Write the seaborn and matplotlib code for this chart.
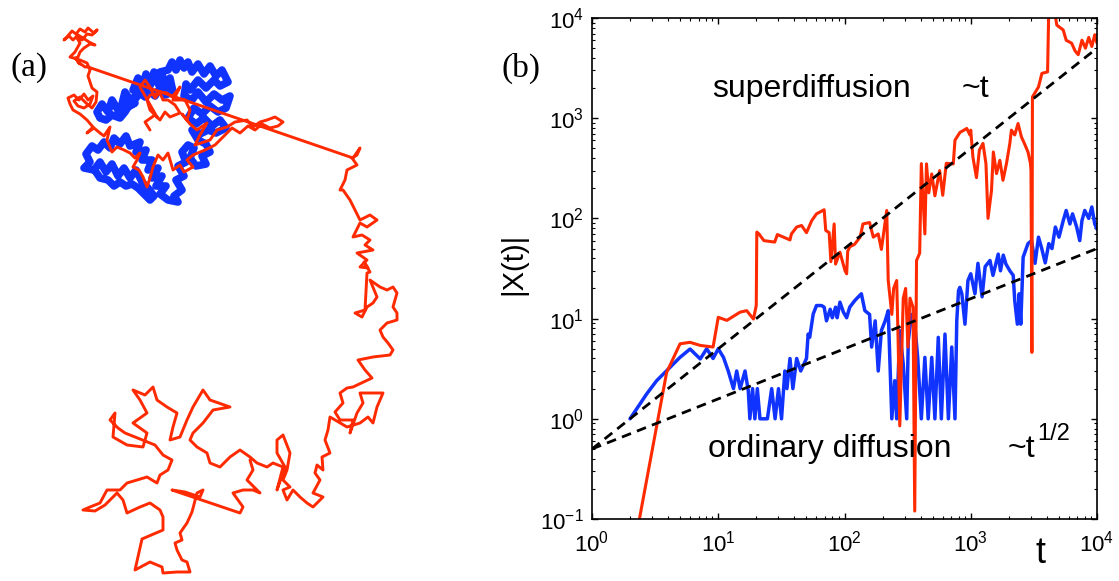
import numpy as np
import pandas as pd
import matplotlib
matplotlib.use("Agg")
import matplotlib.pyplot as plt
import seaborn as sns

# ---------------- data: panel (a) trajectories (picture coordinates) ----------------
red_path = [
    (150,130),(145,122),(155,115),(160,120),(165,112),(170,117),(180,113),(175,105),(168,100),(163,100),(160,93),(150,95),(147,100),(150,110),(157,117),(140,87),(145,80),(150,87),(155,98),(160,92),(167,93),(172,97),(180,87),(176,95),(173,100),(185,100),(190,110),(187,120),(182,114),(190,124),(197,130),(207,123),(200,135),(195,145),(210,140),(217,130),(227,127),(235,122),(247,120),(253,127),(260,122),(267,120),(275,117),(283,122),(278,126),(270,128),(262,124),(255,130),(248,126),(240,133),(232,128),(225,135),(215,145),(205,150),(193,155),(187,160),(193,167),(184,172),(180,165),(173,170),(168,153),(163,160),(158,155),(153,167),(150,178),(147,187),(143,177),(139,170),(133,167),(137,160),(140,153),(135,158),(130,153),(124,150),(117,147),(112,152),(107,140),(110,127),(104,136),(100,133),(94,128),(87,133),(93,127),
    (87,120),(80,114),(73,110),(70,104),(68,98),(74,95),(79,100),(84,94),(88,100),(93,96),(90,104),(84,108),(78,106),(74,101),(80,97),(86,103),(92,108),(96,102),(97,92),(92,88),(90,82),(88,76),(90,70),(87,63),(80,60),(70,57),(75,52),(80,43),
    (77,38),(82,40),(87,34),(92,35),(97,30),(94,33),(88,28),(85,32),(80,29),(76,34),(72,31),(66,38),(64,40),(69,36),(73,40),(78,35),(83,38),(89,42),(95,45),(90,44),(84,48),(80,52),(78,57),(75,58),(80,64),(78,62),(85,67),(88,67),
    (353,158),(360,148),(357,155),(352,158),(357,165),(347,170),(345,180),(340,190),(343,190),(350,200),(360,220),(370,215),(377,220),(367,227),(360,223),(353,237),(362,235),(370,240),(365,245),(373,250),(357,253),(367,260),(360,267),(368,268),(364,262),(370,272),(367,273),(365,310),(355,313),(362,317),(367,307),(373,303),(377,297),(370,280),(380,287),(387,290),(393,287),(397,293),(393,307),(397,313),(397,320),(387,323),(380,330),(383,337),(388,343),(393,350),(390,355),(373,357),(358,360),(365,370),(372,378),(353,387),(347,388),(340,393),(343,403),(335,412),(340,420),(353,420),(350,433),(357,413),(363,403),(360,393),(373,393),(383,393),(377,407),(373,423),(368,417),(360,423),(347,427),(330,417),(328,430),(325,440),(330,453),(322,457),(323,470),(317,465),(315,473),
    (320,480),(313,493),(323,497),(313,507),(307,503),(300,497),(293,490),(287,500),(283,490),(290,487),(283,480),(287,470),(290,453),(283,435),(277,440),(277,453),(285,467),(277,490),(283,467),(273,463),(267,467),(257,463),(250,457),(240,450),(230,457),(220,467),(210,463),(207,453),(197,447),(190,440),(193,433),(203,423),(213,410),(230,407),(210,400),(203,390),(193,407),(187,420),(180,437),(170,440),(173,427),(177,413),(167,407),(157,400),(153,387),(145,395),(133,390),(140,400),(147,413),(133,423),(147,433),(143,447),(127,445),(113,437),(115,413),(110,420),(118,428),(125,433),(135,437),(155,445),(163,455),(172,460),(168,470),(160,475),(157,483),(147,477),(137,480),(127,483),(120,490),(107,490),(100,503),(90,507),(83,510),(95,511),(105,505),(117,493),(123,500),(127,513),(140,507),(150,503),(160,510),(163,517),(163,530),(142,539),(135,570),(150,562),(162,567),(163,573),(177,572),(190,572),(187,562),(182,560),(177,550),(175,543),(182,540),(180,533),(187,523),(192,512),(197,493),(203,490),(200,497),(185,492),(172,490),(240,513),(243,507),(233,493),(243,490),(253,490),(260,493),(247,480),(253,470),(250,460),
]
blue_path = [
    (133,90),(138,78),(142,88),(146,74),(150,86),(154,72),(158,84),(162,74),(166,88),(170,78),(173,92),(165,95),(160,88),(155,96),(150,92),(145,97),(140,93),(136,98),(130,100),(125,92),(122,104),(128,107),(135,103),(118,110),(112,100),(108,112),(102,104),(97,112),(100,118),(106,120),(112,115),(120,118),(125,112),(135,96),(150,82),(160,72),(168,70),(172,62),(176,70),(180,60),(184,68),(188,62),(192,72),(198,64),(204,74),(210,66),(216,76),(222,70),(228,82),(220,86),(214,80),(206,88),(198,80),(190,90),(186,84),(184,96),(192,100),(198,92),(206,102),(214,94),(222,100),(230,96),(226,108),(218,112),(210,106),(202,114),(194,108),(188,118),(196,124),(204,118),(212,126),(220,120),(226,128),(216,133),(208,130),(200,134),(192,130),(198,140),(206,144),(210,152),(202,156),(206,164),(196,166),(190,158),(194,148),(188,145),
    (182,152),(186,162),(178,166),(184,176),(176,180),(182,190),(174,196),(178,202),(168,200),(160,194),(166,186),(156,186),(162,176),(152,178),(158,168),(148,170),(152,160),(142,160),(146,150),(136,152),(140,142),(130,146),(126,136),(120,144),(114,138),(110,148),(104,142),(98,150),(92,146),(86,154),(90,162),(84,168),(94,170),(100,162),(106,172),(112,164),(118,176),(124,168),(130,178),(136,170),(142,182),(148,188),(154,196),(150,200),(144,194),(138,188),(132,184),(126,186),(120,182),(114,186),(108,180),(100,178),(96,172),
]

# ---------------- data: panel (b) |X(t)| ----------------
red_t = [2, 2.33, 3.9, 4.98, 5.97, 7.2, 9.1, 10, 11.7, 14.9, 16.8, 19, 20, 20.2, 21, 23, 28, 29.4, 37, 38, 41.8, 45.7, 50, 55, 60, 69, 71, 75.6, 78, 82.8, 85, 92, 101, 104, 106, 110, 120, 133, 140, 158, 169, 185, 196, 216, 222, 237, 245, 259, 266, 274, 292, 305, 318, 330, 349, 360, 372, 394, 406, 433, 446, 465, 491, 520, 567, 600, 640, 727, 750, 820, 930, 985, 1000, 1040, 1110, 1170, 1250, 1320, 1370, 1460, 1510, 1600, 1700, 1800, 1920, 2040, 2100, 2230, 2370, 2520, 2660, 2840, 2970, 3000, 3050, 3080, 3440, 3660, 4060, 4140, 4680, 4800, 5400, 5700, 6300, 6700, 7100, 7600, 8100, 8600, 9100, 9600, 10000]
red_x = [0.03, 0.088, 2.9, 5.6, 5.8, 5.4, 5.2, 10.3, 9.6, 11.6, 12.0, 9.9, 13.5, 73, 70, 60, 58, 69, 61, 70, 82, 85, 72, 95, 111, 122, 76, 72, 37, 88, 35, 46, 30, 28, 47, 52, 55, 65, 88, 91, 65, 70, 49, 120, 24, 11, 20, 24, 6, 0.85, 16, 20, 5.2, 16, 13, 0.12, 38, 45, 352, 70, 350, 180, 278, 168, 300, 170, 355, 350, 603, 720, 790, 680, 760, 410, 255, 480, 560, 350, 100, 190, 460, 280, 380, 240, 355, 560, 760, 680, 885, 650, 560, 460, 355, 300, 4.6, 1630, 2050, 2800, 2900, 10500, 10500, 8500, 7600, 6000, 5600, 4700, 4300, 6000, 5000, 6400, 5200, 6800, 5600]

blue_t = [2, 2.71, 3.25, 4.15, 4.97, 5.98, 7.2, 8.1, 9.1, 10, 11, 12, 13.2, 14, 14.9, 16.3, 17.3, 17.8, 18.7, 19.5, 20.4, 21.4, 24.5, 26.5, 28.2, 30, 31.7, 33.7, 35, 37, 39, 41.8, 45, 50, 51.5, 53, 56.5, 60, 65.7, 69, 72, 77, 80, 85, 87.5, 92, 98, 104, 110, 121, 136, 145, 158, 164, 175, 185, 196, 210, 222, 237, 250, 259, 274, 292, 311, 320, 340, 360, 380, 406, 433, 460, 491, 520, 553, 585, 625, 665, 707, 750, 775, 800, 820, 850, 900, 950, 1000, 1080, 1140, 1230, 1300, 1420, 1500, 1650, 1720, 1810, 1900, 2040, 2170, 2230, 2340, 2420, 2490, 2600, 2840, 3030, 3230, 3440, 3650, 3890, 4150, 4400, 4680, 5000, 5400, 5700, 6100, 6400, 6900, 7300, 7600, 8000, 8600, 9100, 9600, 10000]
blue_x = [1.0, 1.77, 2.4, 3.26, 4.1, 4.97, 3.96, 5, 4, 5, 4.1, 3.0, 2.0, 3, 2, 3, 1.9, 1, 2, 1, 2, 1, 1, 2, 1, 2, 1, 3, 2, 4, 2, 4, 3, 4, 7, 6.5, 11.1, 13.5, 13.5, 13, 9.5, 12.4, 10.2, 13, 10.2, 14.6, 11.6, 10.2, 13, 15.2, 17.7, 12, 11, 5.2, 9.5, 3, 7.6, 9.5, 12, 1, 2.4, 1, 7.6, 3.5, 1, 6, 11, 8.8, 4.1, 1, 4.1, 1, 4.1, 1, 6.5, 1, 7, 1, 5.2, 1, 9.5, 19, 20.5, 17.7, 8.8, 24, 28, 17.7, 35.6, 16.5, 33, 38, 27, 44, 30, 43, 35, 30, 27, 15.2, 8.8, 17.7, 8.8, 41, 56, 60, 35.6, 65, 50, 36, 56, 50, 82, 65, 95, 120, 88, 111, 82, 60, 95, 120, 100, 130, 88, 78]

# guide lines (end points of the power laws ~t and ~t^(1/2))
guide_t = [1, 10000]
guide_super = [0.5, 5000]
guide_ordinary = [0.5, 50]

yticks = [0.1, 1, 10, 100, 1000, 10000]
xticks = [1, 10, 100, 1000, 10000]

RED = "#ff2a00"
BLUE = "#1133ff"

# ---------------- style ----------------
sns.set_theme(style="white")
plt.rcParams["font.family"] = ["Liberation Sans", "DejaVu Sans"]
plt.rcParams["mathtext.fontset"] = "custom"
plt.rcParams["mathtext.rm"] = "Liberation Sans"
plt.rcParams["mathtext.it"] = "Liberation Sans:italic"
plt.rcParams["mathtext.bf"] = "Liberation Sans:bold"
for k in ["text.color", "axes.labelcolor", "xtick.color", "ytick.color", "axes.edgecolor"]:
    plt.rcParams[k] = "black"

W, H = 1119, 581
fig = plt.figure(figsize=(W / 100, H / 100), dpi=100)
fig.patch.set_facecolor("white")

def fx(px):
    return px / W

def fy(py):
    return 1 - py / H

# ---------------- panel (a) ----------------
ax_a = fig.add_axes([0, 0, 400 / W, 1])
dfa_b = pd.DataFrame(blue_path, columns=["x", "y"])
dfa_r = pd.DataFrame(red_path, columns=["x", "y"])
sns.lineplot(data=dfa_b, x="x", y="y", sort=False, estimator=None, color=BLUE,
             lw=5.5, ax=ax_a, solid_joinstyle="round", solid_capstyle="round")
sns.lineplot(data=dfa_r, x="x", y="y", sort=False, estimator=None, color=RED,
             lw=2.1, ax=ax_a, solid_joinstyle="round", solid_capstyle="round")
ax_a.set_xlim(0, 400)
ax_a.set_ylim(H, 0)
ax_a.axis("off")

# ---------------- panel (b) ----------------
ax = fig.add_axes([fx(592), fy(519), (1097 - 592) / W, (519 - 18) / H])
ax.set_xscale("log")
ax.set_yscale("log")

dfr = pd.DataFrame({"t": red_t, "x": red_x})
dfb = pd.DataFrame({"t": blue_t, "x": blue_x})
sns.lineplot(data=dfb, x="t", y="x", sort=False, estimator=None, color=BLUE, lw=2.5, ax=ax)
sns.lineplot(data=dfr, x="t", y="x", sort=False, estimator=None, color=RED, lw=2.2, ax=ax)
sns.lineplot(x=guide_t, y=guide_super, color="black", lw=2.0, ax=ax,
             linestyle=(0, (3.5, 2.3)))
sns.lineplot(x=guide_t, y=guide_ordinary, color="black", lw=2.0, ax=ax,
             linestyle=(0, (3.5, 2.3)))

ax.set_xlim(1, 10000)
ax.set_ylim(0.1, 10000)
ax.set_xticks(xticks)
ax.set_yticks(yticks)
ax.set_xlabel("")
ax.set_ylabel("")
for s in ax.spines.values():
    s.set_color("black")
    s.set_linewidth(1.2)
    s.set_visible(True)
ax.tick_params(which="both", direction="in", top=True, right=True, bottom=True, left=True,
               colors="black", labelcolor="black")
ax.tick_params(which="major", length=4, width=1.0, labelsize=16)
ax.tick_params(which="minor", length=2.2, width=0.8)
ax.tick_params(axis="y", pad=6)
ax.tick_params(axis="x", pad=8)
ax.grid(False)

# ---------------- texts ----------------
fig.text(fx(712), fy(97), "superdiffusion", fontsize=23, va="baseline", ha="left")
fig.text(fx(962), fy(97), "~t", fontsize=23, va="baseline", ha="left")
fig.text(fx(708), fy(457), "ordinary diffusion", fontsize=23, va="baseline", ha="left")
fig.text(fx(1008), fy(457), "~t", fontsize=23, va="baseline", ha="left")
fig.text(fx(1037), fy(440), "1/2", fontsize=17, va="baseline", ha="left")
fig.text(fx(513), fy(264), "|X(t)|", fontsize=21, rotation=90, va="center", ha="center")
fig.text(fx(1041), fy(563), "t", fontsize=26, va="baseline", ha="center")
fig.text(fx(29), fy(68), "(a)", fontsize=24, va="center", ha="center",
         family=["Liberation Serif", "DejaVu Serif"])
fig.text(fx(521), fy(68), "(b)", fontsize=24, va="center", ha="center",
         family=["Liberation Serif", "DejaVu Serif"])

fig.savefig("out.png", dpi=100, facecolor="white")
